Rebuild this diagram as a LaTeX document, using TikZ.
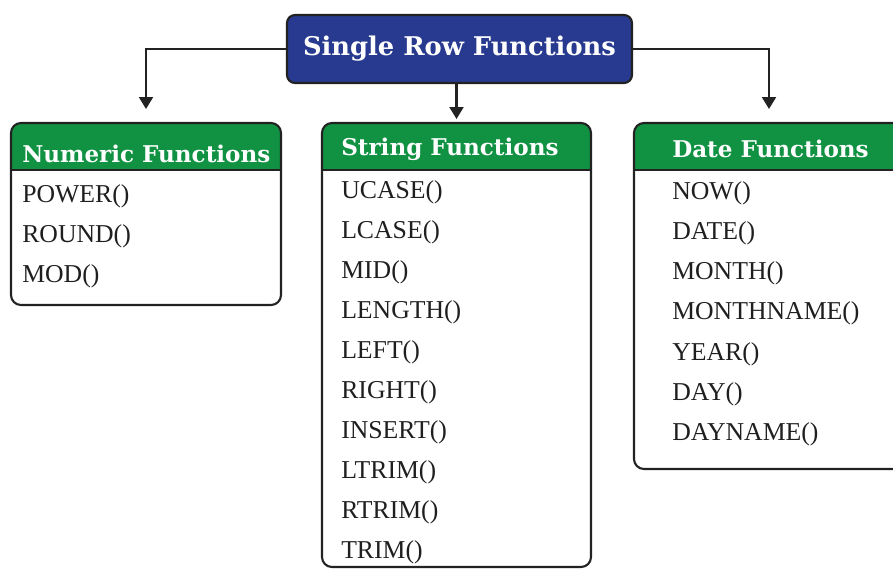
\documentclass[tikz,border=0pt]{standalone}
\usepackage{fontspec}
\setmainfont{Liberation Serif}
\newfontfamily\hdrfont{DejaVu Serif}
\usepackage{xcolor}
\usetikzlibrary{arrows.meta,positioning,backgrounds}
\definecolor{srfblue}{HTML}{283A8F}
\definecolor{hdrgreen}{HTML}{109242}
\definecolor{edge}{HTML}{222222}

\begin{document}
\begin{tikzpicture}[
  x=0.75pt, y=-0.75pt,
  topbox/.style={draw=edge, line width=1.6pt, fill=srfblue, rounded corners=6pt, inner sep=0pt, outer sep=0pt,
    text=white, font=\hdrfont\bfseries\fontsize{19.3}{19.3}\selectfont},
  catbox/.style={draw=edge, line width=1.6pt, rounded corners=7.5pt, inner sep=0pt, outer sep=0pt, anchor=north west},
  ttl/.style={text=white, inner sep=0pt, anchor=base west, font=\hdrfont\bfseries\fontsize{17.3}{17.3}\selectfont},
  itm/.style={inner sep=0pt, anchor=base west, text=black!88, font=\fontsize{19.3}{19.3}\selectfont},
  arr/.style={-{Triangle[width=10.5pt,length=9pt]}, line width=1.6pt, draw=edge}
]
\path[use as bounding box, clip] (0,0) rectangle (893,571);

% top node
\node[topbox, minimum width=258.75pt, minimum height=51pt] (srf) at (459.5,49) {Single Row Functions};

% the three groups
\node[catbox, minimum width=202.5pt, minimum height=136.5pt] (num) at (11,123) {};
\node[catbox, minimum width=201.75pt, minimum height=333pt] (str) at (322,123) {};
\node[catbox, minimum width=202.5pt, minimum height=259.5pt] (dat) at (634,123) {};

% green headers
\begin{scope}[on background layer]
  \foreach \b in {num,str,dat} {
    \begin{scope}
      \clip[rounded corners=7.5pt] (\b.south west) rectangle (\b.north east);
      \fill[hdrgreen] (\b.north west) rectangle ([yshift=-35.25pt]\b.north east);
    \end{scope}
  }
\end{scope}
\foreach \b in {num,str,dat}
  \draw[edge, line width=1.6pt] ([yshift=-35.25pt]\b.north west) -- ([yshift=-35.25pt]\b.north east);

\node[ttl] (numt) at (22,162) {Numeric Functions};
\node[ttl] (strt) at (341,155) {String Functions};
\node[ttl] (datt) at (672,157) {Date Functions};

% function names
\foreach \f [count=\i] in {POWER(),ROUND(),MOD()}
  \node[itm] at (22,{162+40*\i}) {\f};
\foreach \f [count=\i] in {UCASE(),LCASE(),MID(),LENGTH(),LEFT(),RIGHT(),INSERT(),LTRIM(),RTRIM(),TRIM()}
  \node[itm] at (341,{158+40*\i}) {\f};
\foreach \f [count=\i] in {NOW(),DATE(),MONTH(),MONTHNAME(),YEAR(),DAY(),DAYNAME()}
  \node[itm] at (672,{159+40.2*\i}) {\f};

% connectors
\draw[arr, shorten >=10.5pt] (srf.west) -| (num.north);
\draw[arr, shorten >=3pt] (srf.south -| str.north) -- (str.north);
\draw[arr, shorten >=10.5pt] (srf.east) -| (dat.north);
\end{tikzpicture}
\end{document}
